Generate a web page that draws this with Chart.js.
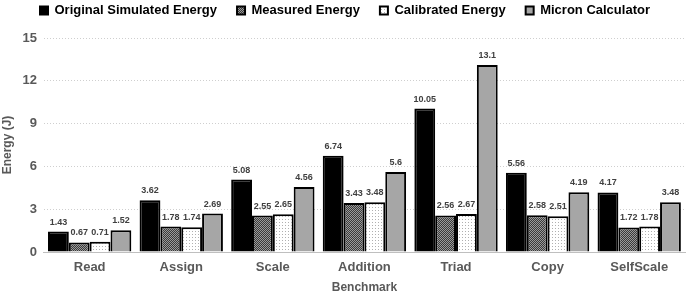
<!DOCTYPE html>
<html>
<head>
<meta charset="utf-8">
<script src="https://cdn.jsdelivr.net/npm/chart.js@4/dist/chart.umd.min.js"></script>
<style>
  html, body { margin: 0; padding: 0; background: #fff; }
  #wrap { width: 689px; height: 294px; position: relative; }
</style>
</head>
<body>
<div id="wrap"><canvas id="chart"></canvas></div>
<script>
// benchmark data
const benchmarks = ['Read', 'Assign', 'Scale', 'Addition', 'Triad', 'Copy', 'SelfScale'];
const originalSimulated = [1.43, 3.62, 5.08, 6.74, 10.05, 5.56, 4.17];
const measured = [0.67, 1.78, 2.55, 3.43, 2.56, 2.58, 1.72];
const calibrated = [0.71, 1.74, 2.65, 3.48, 2.67, 2.51, 1.78];
const micronCalc = [1.52, 2.69, 4.56, 5.6, 13.1, 4.19, 3.48];
const yTicks = [0, 3, 6, 9, 12, 15];

const FONT = "'Liberation Sans', Arial, sans-serif";
const GREY_TEXT = '#595959';

// small tiled fills for the two hatched series
function makePattern(size, bg, dots) {
    const c = document.createElement('canvas');
    c.width = size;
    c.height = size;
    const g = c.getContext('2d');
    g.fillStyle = bg;
    g.fillRect(0, 0, size, size);
    dots.forEach(([x, y, col]) => {
        g.fillStyle = col;
        g.fillRect(x, y, 1, 1);
    });
    return g.createPattern(c, 'repeat');
}

const ctx = document.getElementById('chart').getContext('2d');
const checker = makePattern(2, '#3a3a3a', [[0, 0, '#9a9a9a'], [1, 1, '#9a9a9a']]);
const dotted = makePattern(3, '#ffffff', [[0, 0, '#b0b0b0']]);

// value labels above each bar
const valueLabels = {
    id: 'valueLabels',
    afterDatasetsDraw(chart) {
        const c = chart.ctx;
        c.save();
        c.font = 'bold 9px ' + FONT;
        c.fillStyle = '#404040';
        c.textAlign = 'center';
        c.textBaseline = 'bottom';
        chart.data.datasets.forEach((ds, i) => {
            const meta = chart.getDatasetMeta(i);
            meta.data.forEach((bar, j) => {
                c.fillText(String(ds.data[j]), bar.x, bar.y - 5);
            });
        });
        c.restore();
    }
};

// legend sits high and a bit to the right, plot starts lower
const LEGEND_HEIGHT = 54;
const LEGEND_SHIFT = 20;
const legendGap = {
    id: 'legendGap',
    beforeLayout(chart) {
        const lg = chart.legend;
        if (lg && !lg._patched) {
            const fit = lg.fit.bind(lg);
            lg.fit = function () {
                fit();
                this.height = LEGEND_HEIGHT;
            };
            lg._patched = true;
        }
    },
    afterLayout(chart) {
        const lg = chart.legend;
        if (lg) {
            lg.left += LEGEND_SHIFT;
            lg.right += LEGEND_SHIFT;
        }
    }
};

new Chart(ctx, {
    type: 'bar',
    data: {
        labels: benchmarks,
        datasets: [
            { label: 'Original Simulated Energy', data: originalSimulated, backgroundColor: '#000000' },
            { label: 'Measured Energy', data: measured, backgroundColor: checker },
            { label: 'Calibrated Energy', data: calibrated, backgroundColor: dotted },
            { label: 'Micron Calculator', data: micronCalc, backgroundColor: '#a6a6a6' }
        ].map(d => Object.assign(d, {
            borderColor: '#000000',
            borderWidth: 2,
            borderSkipped: 'bottom',
            categoryPercentage: 0.91,
            barPercentage: 1.0
        }))
    },
    options: {
        responsive: true,
        maintainAspectRatio: false,
        animation: false,
        devicePixelRatio: 1,
        layout: { padding: { left: 0, right: 4, top: -16, bottom: -1 } },
        plugins: {
            legend: {
                position: 'top',
                align: 'start',
                labels: {
                    color: '#000',
                    font: { family: FONT, size: 13, weight: 'bold' },
                    boxWidth: 8,
                    boxHeight: 8,
                    padding: 20
                }
            },
            tooltip: { enabled: false }
        },
        scales: {
            x: {
                grid: { display: false, drawTicks: false },
                border: { color: '#bfbfbf', width: 1 },
                ticks: {
                    color: GREY_TEXT,
                    font: { family: FONT, size: 13, weight: 'bold' },
                    padding: 8
                },
                title: {
                    display: true,
                    text: 'Benchmark',
                    color: GREY_TEXT,
                    font: { family: FONT, size: 12, weight: 'bold' },
                    padding: { top: -3, bottom: 0 }
                }
            },
            y: {
                min: 0,
                max: 15,
                afterBuildTicks(axis) {
                    axis.ticks = yTicks.map(v => ({ value: v }));
                },
                grid: {
                    color: '#cfcfcf',
                    drawTicks: false
                },
                border: { display: false, dash: [1, 2] },
                ticks: {
                    color: GREY_TEXT,
                    font: { family: FONT, size: 13, weight: 'bold' },
                    padding: 7
                },
                title: {
                    display: true,
                    text: 'Energy (J)',
                    color: GREY_TEXT,
                    font: { family: FONT, size: 12, weight: 'bold' },
                    padding: { top: 0, bottom: 1 }
                }
            }
        }
    },
    plugins: [valueLabels, legendGap]
});
</script>
</body>
</html>
